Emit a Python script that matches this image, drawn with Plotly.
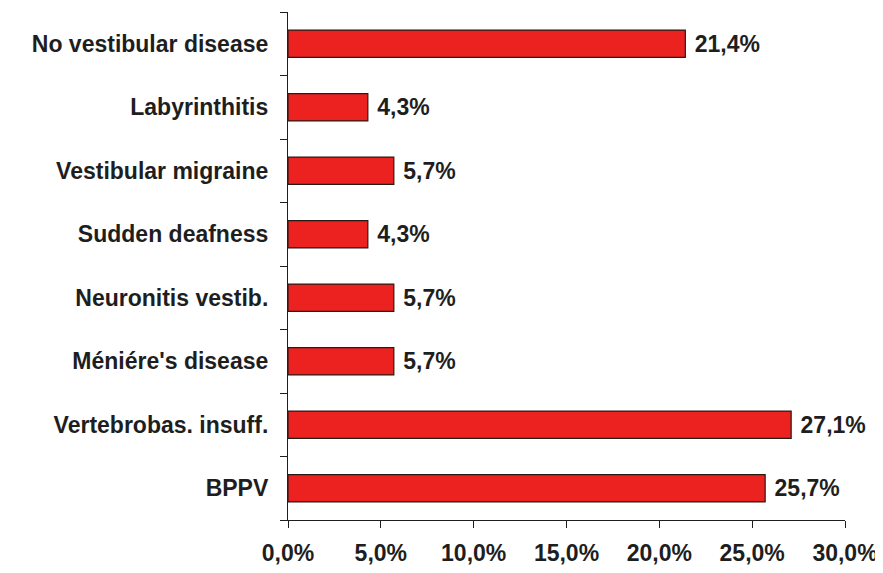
import plotly.graph_objects as go

# categories top-to-bottom as shown
categories = ["No vestibular disease", "Labyrinthitis", "Vestibular migraine",
              "Sudden deafness", "Neuronitis vestib.", "Méniére's disease",
              "Vertebrobas. insuff.", "BPPV"]
percent = [21.4, 4.3, 5.7, 4.3, 5.7, 5.7, 27.1, 25.7]
x_ticks = [0, 5, 10, 15, 20, 25, 30]
x_tick_text = ["0,0%", "5,0%", "10,0%", "15,0%", "20,0%", "25,0%", "30,0%"]

font_main = "Liberation Sans, Arial, sans-serif"
ink = "#1e1e1e"

fig = go.Figure()
fig.add_trace(go.Bar(
    y=categories[::-1], x=percent[::-1], orientation="h",
    width=0.43,
    marker=dict(color="#ec2220", line=dict(color="#2a1a14", width=1.2)),
    texttemplate="<b> %{x:.1f}%</b>", textposition="outside",
    textfont=dict(family=font_main, size=23, color=ink),
    cliponaxis=False,
))

# page has an 8px body margin, so margins are shifted accordingly
fig.update_layout(
    width=883, height=573,
    margin=dict(l=280, r=46, t=4, b=61),
    paper_bgcolor="white", plot_bgcolor="white",
    separators=",.",
    showlegend=False,
    font=dict(family=font_main, size=23, color=ink),
)
fig.update_xaxes(
    range=[0, 30], tickvals=x_ticks, ticktext=x_tick_text,
    showgrid=False, zeroline=False,
    showline=True, linecolor=ink, linewidth=1.2,
    ticks="outside", ticklen=7, tickcolor=ink,
    tickfont=dict(family=font_main, size=23, color=ink, weight="bold"),
    ticklabelstandoff=5,
)
fig.update_yaxes(
    type="category", tickson="boundaries",
    showgrid=False, zeroline=False,
    showline=True, linecolor=ink, linewidth=1.2,
    ticks="outside", ticklen=7, tickcolor=ink,
    tickfont=dict(family=font_main, size=23, color=ink, weight="bold"),
    ticklabelstandoff=14,
)

fig.write_html("out.html")
